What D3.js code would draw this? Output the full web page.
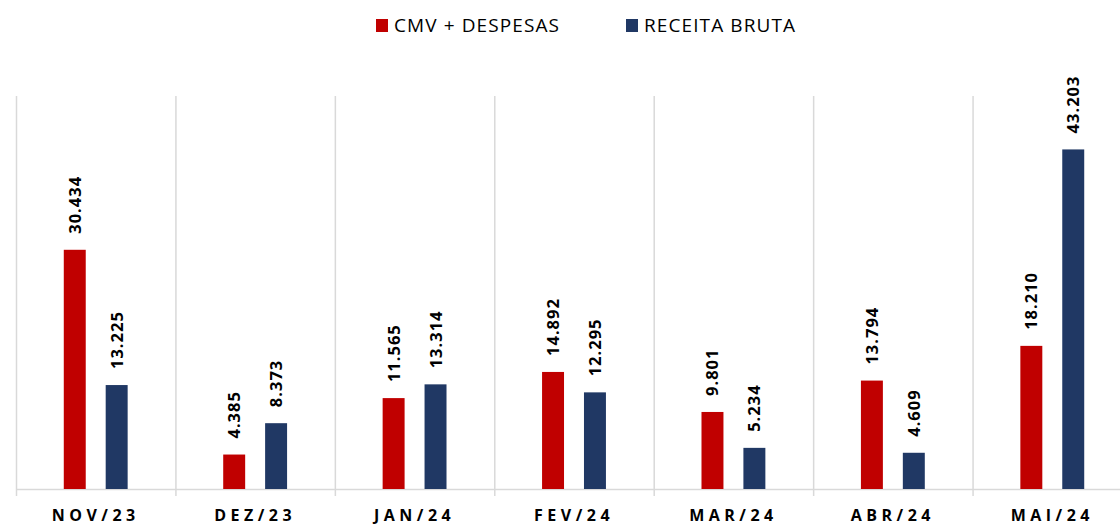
<!DOCTYPE html>
<html>
<head>
<meta charset="utf-8">
<script src="https://cdn.jsdelivr.net/npm/d3@7"></script>
<style>
  body { margin: 0; background: #fff; }
  svg text { font-family: "Open Sans", "Noto Sans", sans-serif; }
</style>
</head>
<body>
<div id="chart"></div>
<script>
const months = ['NOV/23', 'DEZ/23', 'JAN/24', 'FEV/24', 'MAR/24', 'ABR/24', 'MAI/24'];
const seriesNames = ['CMV + DESPESAS', 'RECEITA BRUTA'];
const cmvDespesas = [30.434, 4.385, 11.565, 14.892, 9.801, 13.794, 18.210];
const receitaBruta = [13.225, 8.373, 13.314, 12.295, 5.234, 4.609, 43.203];
const colors = ['#c00000', '#203864'];

const width = 1120, height = 527;
const margin = {top: 96, left: 16, bottom: 38};
const plotRight = 1132; // last band runs past the window edge

const svg = d3.select('#chart').append('svg')
    .attr('width', width)
    .attr('height', height);

const x = d3.scaleBand()
    .domain(months)
    .range([margin.left, plotRight]);

const y = d3.scaleLinear()
    .domain([0, 50])
    .range([height - margin.bottom, margin.top]);

// two bars per month, ~22px wide with a 20px gap
const x1 = d3.scaleBand()
    .domain(seriesNames)
    .range([0, x.bandwidth()])
    .paddingInner(0.476)
    .paddingOuter(1.14);

// vertical separators between months
const edges = months.map(m => x(m)).concat([plotRight]);
svg.append('g').selectAll('line')
    .data(edges)
  .enter().append('line')
    .attr('x1', d => d + 0.5).attr('x2', d => d + 0.5)
    .attr('y1', y(50)).attr('y2', y(0) + 7)
    .attr('stroke', '#d9d9d9')
    .attr('stroke-width', 1.5);

// baseline
svg.append('line')
    .attr('x1', margin.left).attr('x2', plotRight)
    .attr('y1', y(0) + 0.5).attr('y2', y(0) + 0.5)
    .attr('stroke', '#d9d9d9')
    .attr('stroke-width', 1.5);

const rows = months.map((m, i) => ({month: m, values: [cmvDespesas[i], receitaBruta[i]]}));

const group = svg.append('g').selectAll('.month')
    .data(rows)
  .enter().append('g')
    .attr('class', 'month')
    .attr('transform', d => `translate(${x(d.month)},0)`);

const bars = group.selectAll('.bar')
    .data(d => d.values.map((v, j) => ({key: seriesNames[j], value: v, idx: j})))
  .enter();

bars.append('rect')
    .attr('x', d => x1(d.key))
    .attr('width', x1.bandwidth())
    .attr('y', d => y(d.value))
    .attr('height', d => y(0) - y(d.value))
    .attr('fill', d => colors[d.idx]);

bars.append('text')
    .attr('transform', d => `translate(${x1(d.key) + x1.bandwidth() / 2 + 6},${y(d.value) - 16}) rotate(-90)`)
    .attr('font-size', 16.5)
    .attr('font-weight', 'bold')
    .attr('letter-spacing', '1px')
    .attr('fill', '#000')
    .text(d => d3.format('.3f')(d.value));

// x axis labels
const xAxis = d3.axisBottom(x).tickSize(0).tickPadding(21);
svg.append('g')
    .attr('transform', `translate(0,${y(0)})`)
    .call(xAxis)
    .call(g => g.select('.domain').remove())
    .selectAll('text')
    .attr('font-family', '"Open Sans", sans-serif')
    .attr('font-size', 16)
    .attr('font-weight', 'bold')
    .attr('letter-spacing', '4.5px')
    .attr('fill', '#000');

// legend
const legend = svg.append('g');
const legendX = [376, 626];
seriesNames.forEach((name, j) => {
  legend.append('rect')
      .attr('x', legendX[j]).attr('y', 19)
      .attr('width', 12).attr('height', 13)
      .attr('fill', colors[j]);
  legend.append('text')
      .attr('x', legendX[j] + 18).attr('y', 32)
      .attr('font-size', 19)
      .attr('letter-spacing', '1.1px')
      .attr('fill', '#000')
      .text(name);
});
</script>
</body>
</html>
